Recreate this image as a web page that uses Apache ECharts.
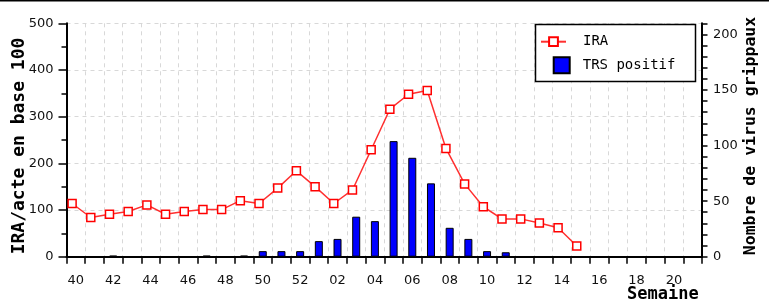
<!DOCTYPE html>
<html>
<head>
<meta charset="utf-8">
<script src="https://cdn.jsdelivr.net/npm/echarts@6/dist/echarts.min.js"></script>
<style>
html,body{margin:0;padding:0;background:#fff;}
#chart{width:769px;height:300px;}
</style>
</head>
<body>
<div id="chart"></div>
<script>
// Weeks 40..52 then 01..21
const weeks = ['40','41','42','43','44','45','46','47','48','49','50','51','52',
  '01','02','03','04','05','06','07','08','09','10','11','12','13','14','15','16','17','18','19','20','21'];
// IRA/acte en base 100 (left axis)
const ira = [114,84,91,97,111,91,97,101,101,120,114,147,184,
  150,114,143,229,316,348,356,232,156,107,81,81,72,62,23,null,null,null,null,null,null];
// TRS positif - nombre de virus grippaux (right axis)
const trs = [0,0,1,0,0,0,0,1,0,1,5,5,5,
  14,16,36,32,104,89,66,26,16,5,4,null,null,null,null,null,null,null,null,null,null];
const leftTicks = [0,100,200,300,400,500];
const rightTicks = [0,50,100,150,200];

const chart = echarts.init(document.getElementById('chart'), null, {renderer:'canvas'});
const lineData = [];
ira.forEach((v,i)=>{ if(v!=null) lineData.push([i, v]); });

const gridColor = '#d8d8d8';
chart.setOption({
  animation:false,
  backgroundColor:'#fff',
  grid:{left:66.5, right:67, top:23.3, bottom:43.3, containLabel:false, outerBoundsMode:'none'},
  xAxis:[{
    type:'category', data:weeks, boundaryGap:true,
    axisLine:{onZero:false, lineStyle:{color:'#000', width:2}},
    axisTick:{show:true, interval:0, length:7, lineStyle:{color:'#000', width:1.5}},
    axisLabel:{interval:1, margin:17, color:'#111', fontFamily:'DejaVu Sans', fontSize:13},
    splitLine:{show:true, interval:0, lineStyle:{color:gridColor, type:[4,4], width:1}}
  },{
    type:'value', min:-0.3, max:33.7, show:false
  }],
  yAxis:[{
    type:'value', min:leftTicks[0], max:leftTicks[leftTicks.length-1], interval:100,
    name:'IRA/acte en base 100', nameLocation:'middle', nameRotate:90, nameGap:38, nameMoveOverlap:false,
    nameTextStyle:{fontFamily:'DejaVu Sans Mono', fontWeight:'bold', fontSize:18, color:'#000', padding:[0,12,0,0]},
    axisLine:{show:true, onZero:false, lineStyle:{color:'#000', width:2}},
    axisTick:{show:true, length:8, lineStyle:{color:'#000', width:1.5}},
    minorTick:{show:true, splitNumber:2, length:5, lineStyle:{color:'#000', width:1.5}},
    axisLabel:{margin:13, color:'#111', fontFamily:'DejaVu Sans', fontSize:13},
    splitLine:{show:true, lineStyle:{color:gridColor, type:[4,4], width:1}}
  },{
    type:'value', min:0, max:210, interval:10, position:'right',
    name:'Nombre de virus grippaux', nameLocation:'middle', nameRotate:90, nameGap:40, nameMoveOverlap:false,
    nameTextStyle:{fontFamily:'DejaVu Sans Mono', fontWeight:'bold', fontSize:16.5, color:'#000', padding:[0,0,0,8]},
    axisLine:{show:true, onZero:false, lineStyle:{color:'#000', width:2}},
    axisTick:{show:true, length:5.5, lineStyle:{color:'#000', width:1.5}},
    axisLabel:{margin:11, color:'#111', fontFamily:'DejaVu Sans', fontSize:13,
      formatter:v=> rightTicks.indexOf(v)>=0 ? String(v) : ''},
    splitLine:{show:false}
  }],
  legend:[{
    data:['IRA'], left:540, top:34.7, padding:0, orient:'vertical',
    itemWidth:25, itemHeight:11, z:5,
    textStyle:{fontFamily:'DejaVu Sans Mono', fontSize:14, color:'#000', padding:[0,0,0,12]}
  },{
    data:[{name:'TRS positif', icon:'rect'}], left:552.7, top:56.3, padding:0, orient:'vertical',
    itemWidth:16, itemHeight:16, z:5,
    textStyle:{fontFamily:'DejaVu Sans Mono', fontSize:14, color:'#000', padding:[0,0,0,8]}
  }],
  graphic:[
    {type:'rect', z:3, shape:{x:535.5, y:24.5, width:160, height:57},
      style:{fill:'#fff', stroke:'#000', lineWidth:1.5}},
    {type:'rect', z:10, shape:{x:0, y:0, width:769, height:1.5}, style:{fill:'#000'}},
    {type:'text', z:10, style:{x:627, y:286.5, text:'Semaine', fill:'#000',
      font:'bold 17px "DejaVu Sans Mono"', textVerticalAlign:'top', textAlign:'left'}}
  ],
  series:[{
    name:'TRS positif', type:'bar', xAxisIndex:0, yAxisIndex:1, data:trs, barWidth:8,
    itemStyle:{color:'#0000ff', borderColor:'#000', borderWidth:1}, z:2
  },{
    name:'IRA', type:'line', xAxisIndex:1, yAxisIndex:0, data:lineData,
    symbol:'rect', symbolSize:8,
    lineStyle:{color:'#ff3030', width:1.5},
    itemStyle:{color:'#fff', borderColor:'#ff0000', borderWidth:1.5}, z:3
  }]
});
</script>
</body>
</html>
